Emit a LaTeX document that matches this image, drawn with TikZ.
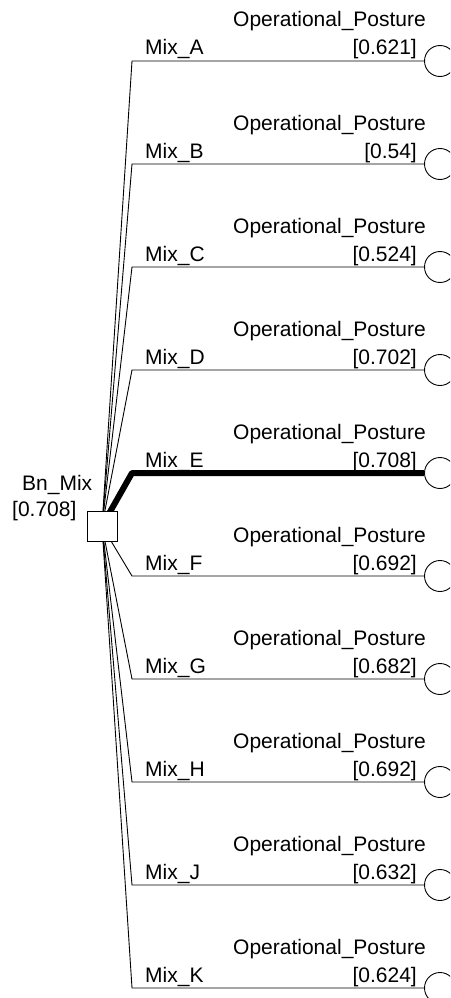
\documentclass[tikz,border=0pt]{standalone}
\usepackage{fontspec}
\setmainfont{Liberation Sans}
\usetikzlibrary{backgrounds}
\begin{document}
\begin{tikzpicture}[x=1pt,y=-1pt,
  every node/.style={font=\fontsize{21}{25}\selectfont, inner sep=0pt},
  chance/.style={draw, circle, fill=white, minimum size=31pt, line width=0.9pt},
  decision/.style={draw, rectangle, fill=white, minimum size=30pt, line width=0.9pt},
  branch/.style={line width=0.9pt},
  best/.style={line width=6pt, line join=round},
  lbl/.style={anchor=base west},
  val/.style={anchor=base east}]
\useasboundingbox (0,0) rectangle (450,998);
\clip (0,0) rectangle (450,998);
\node[decision] (d) at (102,526) {};
\node[anchor=base west] (dname) at (22,490) {Bn\_Mix};
\node[anchor=base west] (dval) at (12,516) {[0.708]};
\foreach \n/\lab/\v [count=\i from 0] in {A/Mix\_A/0.621, B/Mix\_B/0.54, C/Mix\_C/0.524, D/Mix\_D/0.702, E/Mix\_E/0.708, F/Mix\_F/0.692, G/Mix\_G/0.682, H/Mix\_H/0.692, J/Mix\_J/0.632, K/Mix\_K/0.624}{
  \pgfmathsetmacro{\yy}{61+103*\i}
  \coordinate (k\n) at (132,\yy);
  \node[chance] (c\n) at (440,\yy) {};
  \node[lbl] (m\n) at (145,\yy-6) {\lab};
  \node[lbl] (o\n) at (233,\yy-34) {Operational\_Posture};
  \node[val] (v\n) at (417,\yy-6) {[\v]};
}
\begin{scope}[on background layer]
\foreach \n in {A,B,C,D,F,G,H,J,K}{
  \draw[branch] (d.center) -- (k\n) -- (c\n.west);
}
\draw[best] (d.center) -- (kE) -- (cE.west);
\end{scope}
\end{tikzpicture}
\end{document}
